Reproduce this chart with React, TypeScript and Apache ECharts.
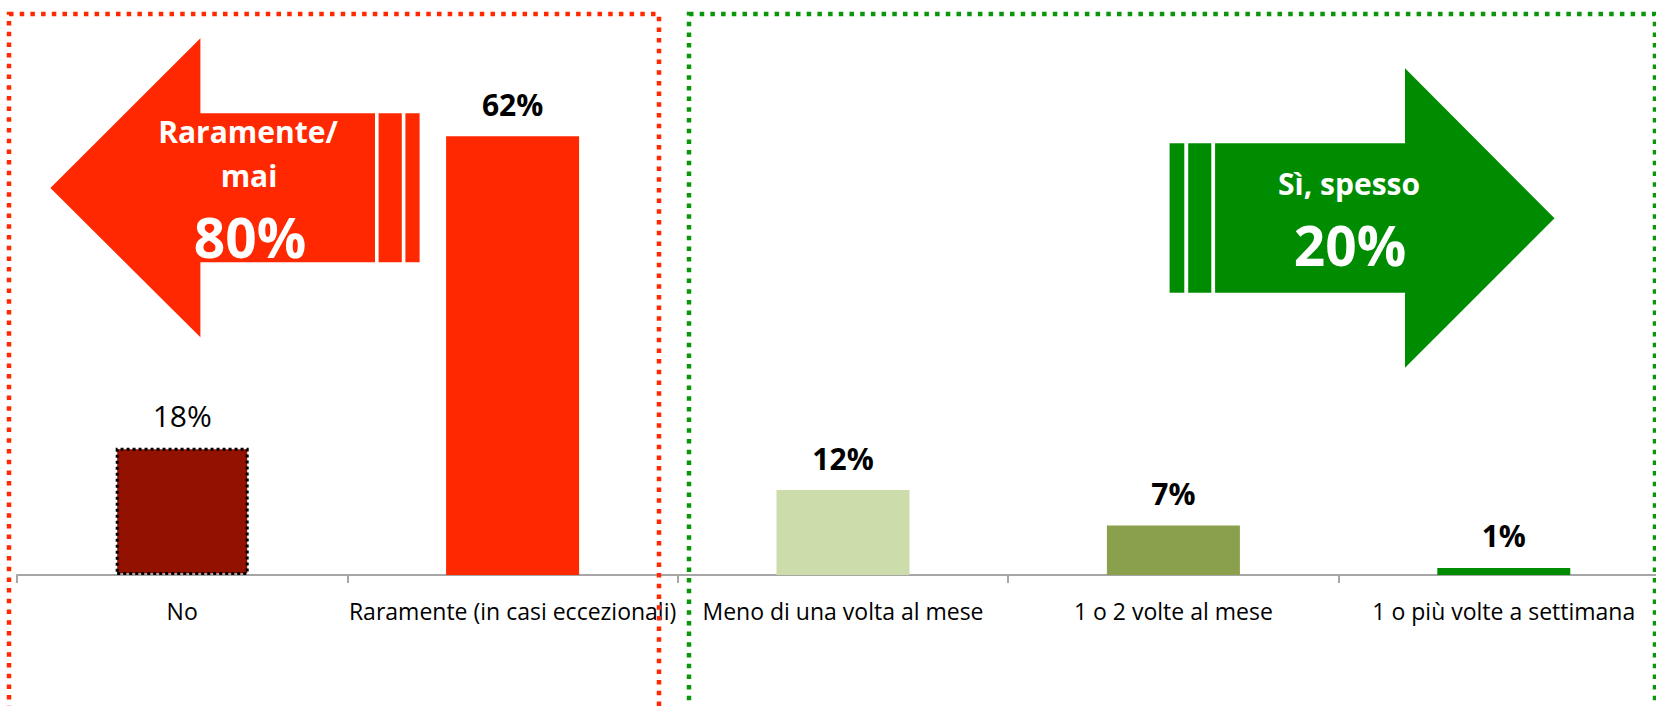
import React, { useEffect, useRef } from "react";
import * as echarts from "echarts";

const categories = [
  "No",
  "Raramente (in casi eccezionali)",
  "Meno di una volta al mese",
  "1 o 2 volte al mese",
  "1 o più volte a settimana",
];
const values = [18, 62, 12, 7, 1];
const barColors = ["#931100", "#FF2800", "#CDDCAB", "#8BA04D", "#008C00"];
const boldLabels = [false, true, true, true, true];
const leftGroup = [0, 1];
const rightGroup = [2, 3, 4];
const leftTitle = ["Raramente/", "mai"];
const rightTitle = "Sì, spesso";

const RED = "#FF2800";
const GREEN = "#008C00";
const FONT = "'Open Sans', 'Noto Sans', sans-serif";

export default function App() {
  const ref = useRef<HTMLDivElement>(null);

  useEffect(() => {
    const chart = echarts.init(ref.current!, null, { renderer: "svg" });
    const leftTotal = leftGroup.reduce((s, i) => s + values[i], 0);
    const rightTotal = rightGroup.reduce((s, i) => s + values[i], 0);

    const whiteText = (text: string, x: number, y: number, size: number) => ({
      type: "text",
      x,
      y,
      z: 101,
      style: {
        text,
        fill: "#FFFFFF",
        fontFamily: FONT,
        fontWeight: "bold",
        fontSize: size,
        align: "center",
        verticalAlign: "middle",
      },
    });

    chart.setOption({
      animation: false,
      backgroundColor: "#FFFFFF",
      grid: { left: 17, top: 9, width: 1652, height: 566 },
      xAxis: {
        type: "category",
        data: categories,
        axisLine: { lineStyle: { color: "#A6A6A6", width: 2 } },
        axisTick: { show: true, length: 8, lineStyle: { color: "#A6A6A6", width: 2 } },
        axisLabel: {
          interval: 0,
          margin: 24,
          fontFamily: FONT,
          fontSize: 23,
          color: "#000000",
        },
      },
      yAxis: { type: "value", min: 0, max: 80, show: false },
      series: [
        {
          type: "bar",
          barWidth: 133,
          data: values.map((v, i) => ({
            value: v,
            itemStyle:
              i === 0
                ? { color: barColors[i], borderColor: "#000000", borderWidth: 3, borderType: "dotted" }
                : { color: barColors[i] },
            label: {
              show: true,
              position: "top",
              distance: 17,
              formatter: "{c}%",
              fontFamily: FONT,
              fontSize: 30,
              fontWeight: boldLabels[i] ? "bold" : "normal",
              color: "#000000",
            },
          })),
        },
      ],
      graphic: [
        {
          type: "rect",
          z: 100,
          shape: { x: 9, y: 14, width: 650, height: 720 },
          style: { fill: "none", stroke: RED, lineWidth: 4.5, lineDash: [4.5, 6.2] },
        },
        {
          type: "rect",
          z: 100,
          shape: { x: 689, y: 14, width: 966, height: 720 },
          style: { fill: "none", stroke: "#0A960A", lineWidth: 4.5, lineDash: [4.5, 6.2] },
        },
        {
          type: "polygon",
          z: 100,
          shape: {
            points: [
              [50.4, 188],
              [200.4, 38.3],
              [200.4, 113.3],
              [375, 113.3],
              [375, 262.3],
              [200.4, 262.3],
              [200.4, 337.3],
            ],
          },
          style: { fill: RED },
        },
        { type: "rect", z: 100, shape: { x: 378.6, y: 113.3, width: 23.2, height: 149 }, style: { fill: RED } },
        { type: "rect", z: 100, shape: { x: 405.4, y: 113.3, width: 14.2, height: 149 }, style: { fill: RED } },
        {
          type: "polygon",
          z: 100,
          shape: {
            points: [
              [1215.1, 143.3],
              [1405, 143.3],
              [1405, 68.3],
              [1554.5, 218.3],
              [1405, 367.7],
              [1405, 292.7],
              [1215.1, 292.7],
            ],
          },
          style: { fill: GREEN },
        },
        { type: "rect", z: 100, shape: { x: 1169.6, y: 143.3, width: 14.7, height: 149.4 }, style: { fill: GREEN } },
        { type: "rect", z: 100, shape: { x: 1188.2, y: 143.3, width: 23.1, height: 149.4 }, style: { fill: GREEN } },
        whiteText(leftTitle[0], 248, 131, 30),
        whiteText(leftTitle[1], 249, 175, 30),
        whiteText(leftTotal + "%", 250, 236, 55),
        whiteText(rightTitle, 1349, 183, 30),
        whiteText(rightTotal + "%", 1350, 244, 55),
      ],
    });

    return () => chart.dispose();
  }, []);

  return (
    <div
      style={{
        position: "fixed",
        left: 0,
        top: 0,
        width: 1656,
        height: 706,
        overflow: "hidden",
        background: "#FFFFFF",
      }}
    >
      <div ref={ref} style={{ width: 1700, height: 706 }} />
    </div>
  );
}
